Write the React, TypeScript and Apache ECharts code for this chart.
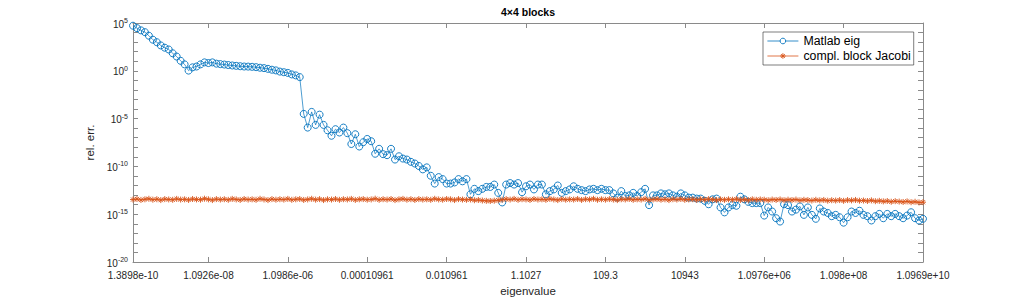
import React, { useEffect, useRef } from 'react';
import * as echarts from 'echarts';

// x categories: eigenvalue index 1..200
const eigIndex: string[] = Array.from({ length: 200 }, (_, i) => String(i + 1));
const xTickIndex: number[] = [1, 20, 40, 60, 80, 100, 120, 140, 160, 180, 200];
const xTickLabels: string[] = [
  '1.3898e-10', '1.0926e-08', '1.0986e-06', '0.00010961', '0.010961', '1.1027',
  '109.3', '10943', '1.0976e+06', '1.098e+08', '1.0969e+10',
];
const yMajorExp: number[] = [-20, -15, -10, -5, 0, 5];
const yMinorExp: number[] = [-20, -19, -18, -17, -16, -15, -14, -13, -12, -11, -10, -9, -8, -7, -6, -5, -4, -3, -2, -1, 0, 1, 2, 3, 4, 5];

const matlabEig: number[] = [
  5.2e4, 2.9e4, 1.7e4, 1.1e4, 4.7e3, 1.8e3, 9.8e2, 4.5e2, 2.6e2, 1.7e2,
  68, 31, 11, 4.7, 1.05, 2.3, 2.8, 4.7, 7.6, 6.5,
  7.6, 5.6, 5.0, 4.5, 4.0, 3.6, 3.3, 3.0, 2.8, 2.75,
  2.6, 2.4, 2.1, 1.9, 1.6, 1.3, 1.1, 0.83, 0.71, 0.60,
  0.42, 0.33, 0.22, 3.1e-5, 1.15e-6, 5.0e-5, 2.2e-6, 2.6e-5, 2.2e-6, 6.0e-7,
  1.6e-7, 7.8e-7, 3.5e-7, 1.15e-6, 3.0e-7, 2.2e-8, 2.3e-7, 1.2e-8, 3.4e-8, 7.4e-8,
  4.3e-8, 2.1e-9, 6.9e-9, 1.9e-9, 1.5e-9, 6.9e-9, 5.2e-10, 1.15e-9, 6.6e-10, 5.2e-10,
  3.0e-10, 2.0e-10, 1.1e-10, 4.9e-11, 7.9e-11, 1.05e-11, 1.6e-12, 7.6e-12, 4.7e-12, 1.6e-12,
  1.6e-12, 2.1e-12, 4.7e-12, 2.75e-12, 4.7e-12, 1.2e-13, 4.5e-13, 2.6e-13, 4.5e-13, 7.1e-13,
  7.1e-13, 1.26e-12, 1.7e-13, 1.7e-14, 1.26e-12, 1.8e-12, 1.26e-12, 1.8e-12, 2.0e-13, 8.3e-13,
  1.26e-12, 3.9e-13, 1.26e-12, 1.26e-12, 1.2e-13, 2.6e-13, 3.9e-13, 1.0e-12, 1.7e-13, 2.6e-13,
  3.9e-13, 8.3e-13, 4.5e-13, 3.3e-13, 2.6e-13, 3.9e-13, 4.5e-13, 3.3e-13, 4.5e-13, 3.3e-13,
  3.3e-13, 1.5e-13, 5.4e-14, 2.6e-13, 7.9e-14, 9.3e-14, 1.7e-13, 7.9e-14, 2.0e-13, 4.5e-13,
  8.9e-15, 9.3e-14, 9.3e-14, 1.5e-13, 1.2e-13, 1.5e-13, 9.3e-14, 6.8e-14, 1.5e-13, 9.3e-14,
  5.4e-14, 5.4e-14, 4.3e-14, 4.3e-14, 2.5e-14, 1.1e-14, 3.6e-14, 4.3e-14, 5.1e-15, 1.55e-15,
  5.1e-15, 8.9e-15, 7.6e-15, 6.8e-14, 3.6e-14, 1.95e-14, 1.45e-14, 1.45e-14, 1.45e-14, 7.2e-16,
  5.1e-15, 1.9e-15, 3.8e-16, 1.7e-16, 1.1e-14, 8.9e-15, 1.9e-15, 3.0e-15, 6.5e-15, 8.5e-16,
  5.1e-15, 8.5e-16, 3.3e-16, 4.0e-15, 1.9e-15, 1.35e-15, 6.2e-16, 8.5e-16, 4.8e-16, 1.3e-16,
  4.8e-16, 1.9e-15, 1.35e-15, 2.3e-15, 8.5e-16, 6.2e-16, 2.2e-16, 6.2e-16, 1.07e-15, 3.8e-16,
  1.07e-15, 6.2e-16, 1.07e-15, 6.2e-16, 3.8e-16, 7.2e-16, 1.6e-15, 3.8e-16, 2.2e-16, 3.3e-16,
];

const blockJacobi: number[] = [
  3.4e-14, 3.9e-14, 3.1e-14, 3.6e-14, 4.1e-14, 3.3e-14, 3.7e-14, 3.0e-14, 3.8e-14, 3.5e-14,
  3.2e-14, 4.0e-14, 3.4e-14, 3.6e-14, 3.1e-14, 3.9e-14, 3.5e-14, 3.3e-14, 4.2e-14, 3.6e-14,
  3.0e-14, 3.8e-14, 3.4e-14, 3.7e-14, 3.2e-14, 4.0e-14, 3.5e-14, 3.1e-14, 3.9e-14, 3.4e-14,
  3.6e-14, 3.2e-14, 4.1e-14, 3.5e-14, 3.0e-14, 3.8e-14, 3.3e-14, 3.7e-14, 3.4e-14, 4.0e-14,
  3.2e-14, 3.6e-14, 3.9e-14, 3.1e-14, 3.5e-14, 4.1e-14, 3.3e-14, 3.8e-14, 3.0e-14, 3.6e-14,
  3.4e-14, 3.9e-14, 3.2e-14, 3.7e-14, 3.5e-14, 4.0e-14, 3.1e-14, 3.6e-14, 3.8e-14, 3.3e-14,
  3.5e-14, 4.2e-14, 3.2e-14, 3.7e-14, 3.4e-14, 3.9e-14, 3.0e-14, 3.6e-14, 4.0e-14, 3.3e-14,
  3.7e-14, 3.1e-14, 3.8e-14, 3.4e-14, 3.6e-14, 3.2e-14, 4.1e-14, 3.5e-14, 3.3e-14, 3.9e-14,
  3.6e-14, 3.0e-14, 3.8e-14, 3.4e-14, 3.2e-14, 3.5e-14, 2.9e-14, 3.1e-14, 2.7e-14, 2.5e-14,
  2.4e-14, 2.6e-14, 2.9e-14, 3.3e-14, 3.8e-14, 3.4e-14, 4.0e-14, 3.2e-14, 3.7e-14, 3.5e-14,
  3.1e-14, 3.9e-14, 3.4e-14, 3.6e-14, 3.2e-14, 4.0e-14, 3.5e-14, 3.0e-14, 3.8e-14, 3.3e-14,
  3.6e-14, 3.4e-14, 3.9e-14, 3.1e-14, 3.7e-14, 3.5e-14, 4.1e-14, 3.2e-14, 3.6e-14, 3.3e-14,
  3.8e-14, 3.4e-14, 3.0e-14, 3.7e-14, 3.5e-14, 3.9e-14, 3.2e-14, 3.6e-14, 3.4e-14, 4.0e-14,
  3.1e-14, 3.5e-14, 3.8e-14, 3.3e-14, 3.6e-14, 3.0e-14, 3.7e-14, 3.4e-14, 3.9e-14, 3.2e-14,
  3.5e-14, 3.7e-14, 3.1e-14, 3.6e-14, 3.3e-14, 3.8e-14, 3.4e-14, 3.0e-14, 3.5e-14, 3.2e-14,
  3.6e-14, 3.3e-14, 3.8e-14, 3.1e-14, 3.4e-14, 3.0e-14, 3.6e-14, 3.2e-14, 3.5e-14, 3.3e-14,
  2.9e-14, 3.4e-14, 3.1e-14, 3.5e-14, 2.9e-14, 3.3e-14, 3.0e-14, 3.4e-14, 2.8e-14, 3.2e-14,
  3.0e-14, 2.7e-14, 3.2e-14, 2.8e-14, 3.1e-14, 2.6e-14, 2.9e-14, 2.7e-14, 3.0e-14, 2.5e-14,
  3.0e-14, 2.8e-14, 3.1e-14, 2.6e-14, 2.7e-14, 2.4e-14, 2.8e-14, 2.3e-14, 2.5e-14, 2.2e-14,
  2.4e-14, 2.0e-14, 2.3e-14, 2.1e-14, 1.9e-14, 2.2e-14, 1.8e-14, 2.0e-14, 1.7e-14, 1.8e-14,
];

const BLUE = '#0072BD';
const ORANGE = '#D95319';
const AXIS = '#262626';
const AXIS_LINE = '#8a8a8a';
const FONT = '"Liberation Sans", Arial, Helvetica, sans-serif';

const ASTERISK = 'path://M5,0L5,10M0,5L10,5M1.5,1.5L8.5,8.5M1.5,8.5L8.5,1.5';

const isTickIndex = (index: number) => xTickIndex.indexOf(index + 1) >= 0;
const pow10 = (e: number) => Number('1e' + e);

export default function App() {
  const ref = useRef<HTMLDivElement>(null);
  useEffect(() => {
    if (!ref.current) return;
    const chart = echarts.init(ref.current, null, { renderer: 'svg' });
    const xAxisCommon = {
      type: 'category' as const,
      data: eigIndex,
      boundaryGap: false,
      axisLine: { show: true, lineStyle: { color: AXIS_LINE, width: 1 } },
      axisTick: { show: true, inside: true, length: 5, interval: (i: number) => isTickIndex(i), lineStyle: { color: AXIS_LINE } },
      splitLine: { show: false },
    };
    const yAxisCommon = {
      type: 'log' as const,
      logBase: 10,
      min: 1e-20,
      max: 1e5,
      axisLine: { show: true, lineStyle: { color: AXIS_LINE, width: 1 } },
      axisTick: { show: true, inside: true, length: 5, customValues: yMinorExp.map(pow10), lineStyle: { color: AXIS_LINE } },
      splitLine: { show: false },
      minorTick: { show: false },
    };
    chart.setOption({
      animation: false,
      backgroundColor: '#ffffff',
      textStyle: { fontFamily: FONT },
      grid: { left: 133, right: 98, top: 23, bottom: 34.5, containLabel: false },
      graphic: [
        {
          type: 'text',
          x: 528,
          y: 12,
          style: {
            text: '4×4 blocks',
            fontFamily: FONT,
            fontSize: 10.5,
            fontWeight: 'bold',
            fill: '#000',
            textAlign: 'center',
            textVerticalAlign: 'middle',
          },
        },
      ],
      legend: {
        orient: 'vertical',
        left: 763,
        top: 32,
        data: [
          { name: 'Matlab eig', itemStyle: { color: '#ffffff', borderColor: BLUE, borderWidth: 0.9 } },
          { name: 'compl. block Jacobi', itemStyle: { color: 'rgba(255,255,255,0)', borderColor: ORANGE, borderWidth: 0.9 } },
        ],
        itemWidth: 31,
        itemHeight: 7,
        itemGap: 3,
        padding: [3, 3, 3, 4],
        lineStyle: { width: 0.8 },
        borderColor: AXIS,
        borderWidth: 0.6,
        borderRadius: 0,
        backgroundColor: '#ffffff',
        textStyle: { fontFamily: FONT, fontSize: 12.3, color: '#000' },
      },
      xAxis: [
        {
          ...xAxisCommon,
          position: 'bottom',
          name: 'eigenvalue',
          nameLocation: 'middle',
          nameGap: 23,
          nameTextStyle: { fontFamily: FONT, fontSize: 11.5, color: AXIS },
          axisLabel: {
            show: true,
            interval: (i: number) => isTickIndex(i),
            margin: 8,
            fontFamily: FONT,
            fontSize: 10,
            color: AXIS,
            formatter: (v: string) => {
              const k = xTickIndex.indexOf(Number(v));
              return k >= 0 ? xTickLabels[k] : '';
            },
          },
        },
        {
          ...xAxisCommon,
          position: 'top',
          axisLabel: { show: false },
        },
      ],
      yAxis: [
        {
          ...yAxisCommon,
          position: 'left',
          name: 'rel. err.',
          nameLocation: 'middle',
          nameGap: 36,
          nameTextStyle: { fontFamily: FONT, fontSize: 11.5, color: AXIS },
          axisLabel: {
            show: true,
            customValues: yMajorExp.map(pow10),
            margin: 5,
            showMinLabel: true,
            showMaxLabel: true,
            formatter: (v: number) => {
              const e = Math.round(Math.log10(v));
              return '{b|10}{s|' + e + '}';
            },
            rich: {
              b: { fontFamily: FONT, fontSize: 10, color: AXIS, lineHeight: 12, verticalAlign: 'bottom' },
              s: { fontFamily: FONT, fontSize: 7, color: AXIS, lineHeight: 12, verticalAlign: 'top' },
            },
          },
        },
        {
          ...yAxisCommon,
          position: 'right',
          axisLabel: { show: false },
        },
      ],
      series: [
        {
          name: 'Matlab eig',
          type: 'line',
          data: matlabEig,
          xAxisIndex: 0,
          yAxisIndex: 0,
          symbol: 'circle',
          symbolSize: 7,
          showAllSymbol: true,
          itemStyle: { color: 'rgba(255,255,255,0)', borderColor: BLUE, borderWidth: 0.9 },
          lineStyle: { color: BLUE, width: 0.7 },
          z: 3,
        },
        {
          name: 'compl. block Jacobi',
          type: 'line',
          data: blockJacobi,
          xAxisIndex: 0,
          yAxisIndex: 0,
          symbol: ASTERISK,
          symbolSize: 6,
          showAllSymbol: true,
          itemStyle: { color: 'rgba(255,255,255,0)', borderColor: ORANGE, borderWidth: 0.9 },
          lineStyle: { color: ORANGE, width: 0.7 },
          z: 4,
        },
      ],
    });
    return () => chart.dispose();
  }, []);
  return <div ref={ref} style={{ width: 1021, height: 302, position: 'absolute', left: 0, top: 0 }} />;
}
